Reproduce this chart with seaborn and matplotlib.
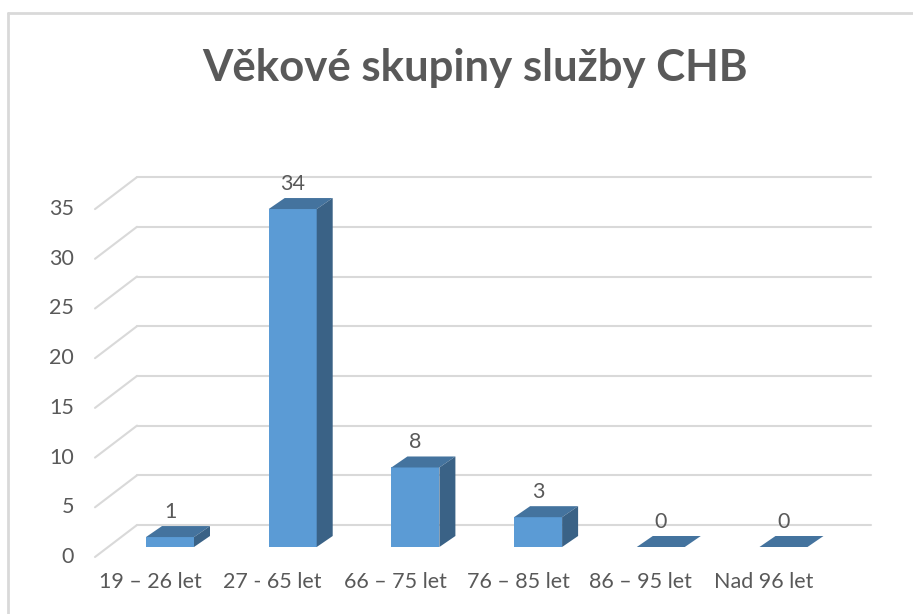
import matplotlib
matplotlib.use("Agg")
import matplotlib.pyplot as plt
import seaborn as sns
import pandas as pd
from matplotlib.patches import Polygon
from matplotlib.lines import Line2D

# ---- data ----
categories = ["19 – 26 let", "27 - 65 let", "66 – 75 let", "76 – 85 let", "86 – 95 let", "Nad 96 let"]
values = [1, 34, 8, 3, 0, 0]
y_ticks = [0, 5, 10, 15, 20, 25, 30, 35]
title = "Věkové skupiny služby CHB"

sns.set_theme(style="white")
plt.rcParams["font.family"] = ["Lato", "DejaVu Sans"]

W, H, DPI = 913, 614, 100
fig = plt.figure(figsize=(W / DPI, H / DPI), dpi=DPI)
ax = fig.add_axes([0, 0, 1, 1])

# pixel geometry -> data units
px_x = 122.7          # pixels per category
px_y = 9.94           # pixels per value unit
x0_px, y0_px = 170, 547   # bar-plane origin (category 0 centre, value 0)

def dxp(p):
    return p / px_x

def dyp(p):
    return p / px_y

text_col = "#595959"
grid_col = "#D9D9D9"
front_col = "#5B9BD5"
top_col = "#44739E"
side_col = "#3A6286"
fs = 15.5

# bars (front faces)
df = pd.DataFrame({"cat": categories, "val": values})
sns.barplot(data=df, x="cat", y="val", ax=ax, color=front_col, saturation=1,
            width=48 / px_x, linewidth=0, zorder=2)
ax.set_xlim(-x0_px / px_x, (W - x0_px) / px_x)
ax.set_ylim((y0_px - H) / px_y, y0_px / px_y)
ax.axis("off")

# front plane offset and back wall offset relative to bar plane (pixels)
front_dx, front_dy = -75, -10   # front-left corner of floor: x=95 px
back_dx, back_dy = -33, 22      # back-left corner: x=137 px
back_right = 871

# gridlines (back wall + left diagonal)
for t in y_ticks:
    yb = t + dyp(back_dy)
    yf = t + dyp(front_dy)
    xl_back = dxp(back_dx)
    xl_front = dxp(front_dx)
    xr = dxp(back_right - x0_px)
    ax.add_line(Line2D([xl_front, xl_back], [yf, yb], color=grid_col, lw=1.5, zorder=0))
    ax.add_line(Line2D([xl_back, xr], [yb, yb], color=grid_col, lw=1.5, zorder=0))
    ax.text(dxp(74 - x0_px), yf, str(t), ha="right", va="center",
            fontsize=fs, color=text_col)

depth_x, depth_y = dxp(16), dyp(11)
for patch, v in zip(ax.patches, values):
    x = patch.get_x()
    w = patch.get_width()
    h = patch.get_height()
    top = Polygon([(x, h), (x + w, h), (x + w + depth_x, h + depth_y), (x + depth_x, h + depth_y)],
                  closed=True, facecolor=top_col, edgecolor="none", zorder=3)
    ax.add_patch(top)
    if h > 0:
        side = Polygon([(x + w, 0), (x + w + depth_x, depth_y), (x + w + depth_x, h + depth_y), (x + w, h)],
                       closed=True, facecolor=side_col, edgecolor="none", zorder=3)
        ax.add_patch(side)
    ax.text(x + w / 2, h + depth_y + dyp(14), str(v), ha="center", va="center",
            fontsize=fs, color=text_col, zorder=4)

# category labels on the front plane
for i, c in enumerate(categories):
    ax.text(i + dxp(-20), dyp(547 - 582), c, ha="center", va="center",
            fontsize=fs, color=text_col)

# title
fig.text(475 / W, 1 - 68 / H, title, ha="center", va="center",
         fontsize=31.5, fontweight="bold", color=text_col)

# chart frame
fig.add_artist(Line2D([8 / W, 8 / W], [0, 1 - 13 / H], transform=fig.transFigure,
                      color=grid_col, lw=2))
fig.add_artist(Line2D([8 / W, 1], [1 - 13 / H, 1 - 13 / H], transform=fig.transFigure,
                      color=grid_col, lw=2))

fig.savefig("out.png", dpi=DPI, facecolor="white")
